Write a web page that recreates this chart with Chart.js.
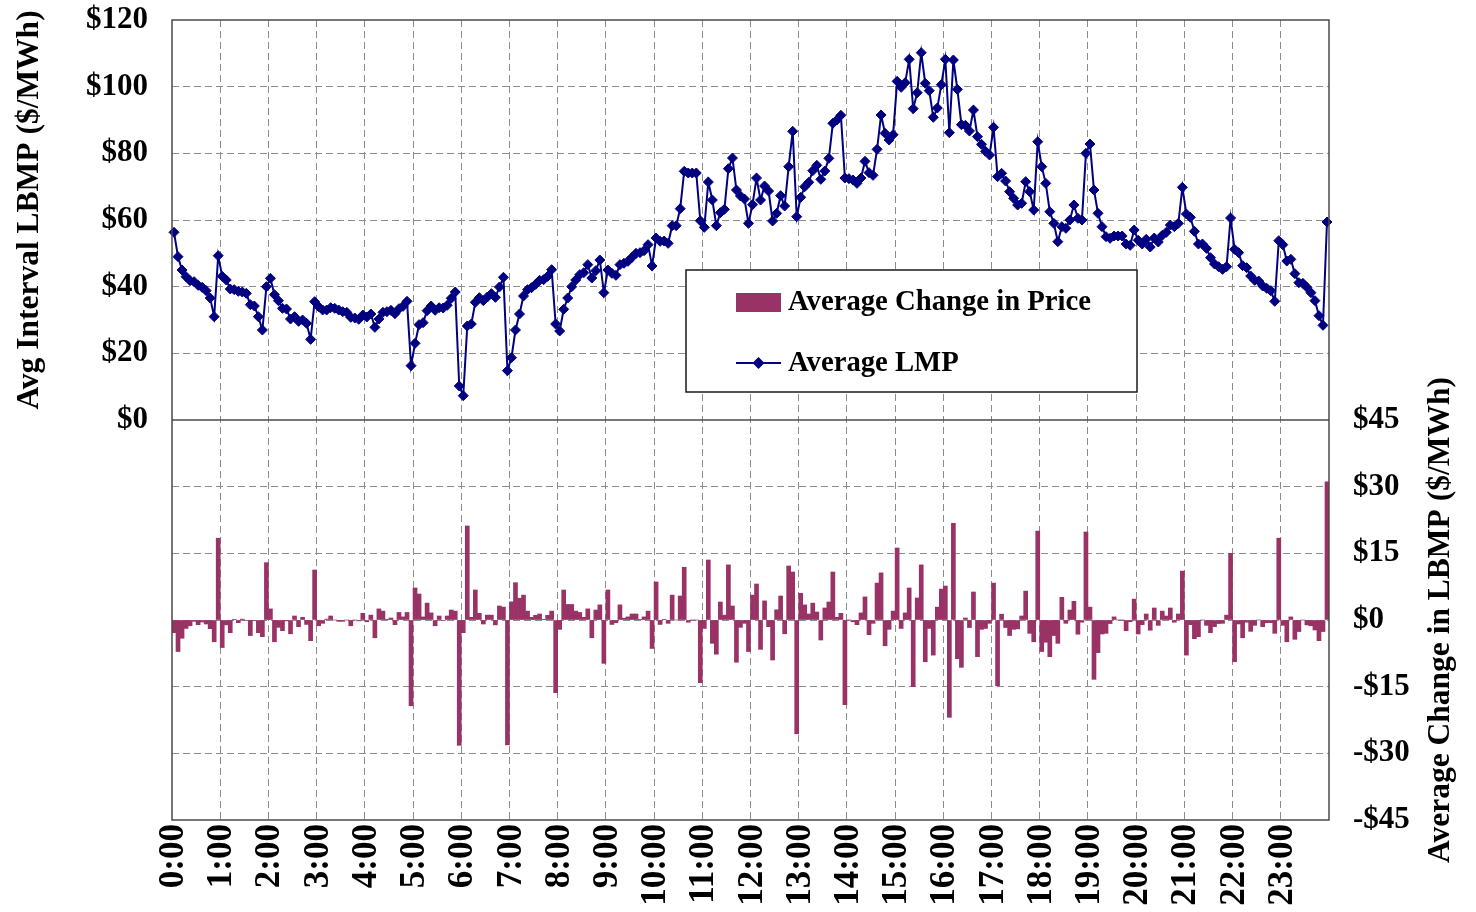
<!DOCTYPE html>
<html>
<head>
<meta charset="utf-8">
<script src="https://cdn.jsdelivr.net/npm/chart.js@4.4.0/dist/chart.umd.min.js"></script>
<style>
  html, body { margin: 0; padding: 0; background: #ffffff; }
  #wrap { width: 1476px; height: 912px; }
</style>
</head>
<body>
<div id="wrap"><canvas id="c" width="1476" height="912"></canvas></div>
<script>
// ---- data (5-minute intervals, 288 per day) ----
const lmp = [
  56.3, 49, 45, 43, 41.8, 41.5, 40.4, 39.8, 38.8, 36.6, 31, 49.3,
  43.1, 42, 39.3, 39.1, 38.6, 38.4, 38, 34.6, 34.2, 31, 27, 40,
  42.5, 37.6, 35.8, 33.5, 33.3, 30.3, 31, 29.6, 30, 29, 24.2, 35.5,
  34, 33, 33, 33.7, 33.5, 33, 32.5, 32.3, 30.8, 30.6, 30.2, 31.5,
  30.9, 31.8, 27.8, 30.3, 32.3, 32.5, 32.9, 31.9, 33.4, 34.1, 35.6, 16.3,
  23, 28.6, 29.2, 32.8, 34.2, 32.9, 33.7, 33.6, 34.4, 36.5, 38.4, 10.2,
  7.3, 28.2, 28.8, 35.3, 36.7, 35.8, 36.9, 37.9, 36.8, 39.9, 42.8, 14.8,
  18.7, 27, 31.8, 37.2, 39.1, 39.7, 40.7, 41.9, 42.1, 43.1, 45.1, 28.8,
  26.7, 33.2, 36.6, 40, 42, 43.6, 44.2, 46.6, 42.6, 44.8, 48, 38.2,
  45, 44, 43.4, 46.6, 47, 47.6, 48.8, 50, 50.2, 50.8, 52.6, 46.2,
  54.6, 53.6, 53.7, 53, 58.3, 58.3, 63.4, 74.6, 74.1, 74.1, 74.1, 59.8,
  57.8, 71.4, 66, 58.3, 62.2, 63.2, 75.4, 78.6, 69, 67.2, 66.3, 59,
  64.6, 72.6, 66, 70.2, 68.7, 59.7, 62, 67.3, 64.2, 76, 86.6, 61,
  66.8, 70, 71.3, 74.8, 76.4, 72.2, 74.7, 78.5, 89, 90, 91.4, 72.6,
  72.4, 72, 71, 72.6, 77.6, 74.2, 73.4, 81.2, 91.5, 86, 84, 85.6,
  101.6, 99.8, 101.2, 108.2, 93.4, 98.2, 110.2, 101, 98.8, 90.8, 93.6, 100.6,
  108.2, 86.2, 108, 99.2, 88.6, 88.4, 86.7, 93, 85, 82.7, 80.6, 79.5,
  87.8, 73, 74, 71.7, 68.5, 66.5, 64.5, 65, 71.5, 68.5, 63, 83.5,
  76, 71, 62.5, 59, 53.5, 58, 57.5, 60, 64.5, 60.5, 60, 80,
  82.8, 69, 62, 58, 55, 54.5, 55.2, 55.2, 55.2, 52.8, 52.4, 57,
  53.9, 52.8, 54.2, 51.9, 54.6, 53.4, 55.4, 56.3, 58.5, 58, 59, 69.8,
  61.8, 60.8, 56.6, 52.8, 52.8, 51.5, 48.7, 46.8, 46, 45.2, 46, 60.6,
  51.2, 50.2, 46.3, 45.7, 43.2, 41.9, 41.7, 40.2, 39.5, 38.8, 35.6, 53.8,
  52.6, 47.7, 48.2, 43.9, 41.2, 41, 39.8, 38.2, 35.8, 31.3, 28.4, 59.4
];

const priceChange = [
  -2.85, -7.1, -4.1, -1.9, -1.3, -0.3, -1.05, -0.45, -0.9, -1.95, -4.9, 18.4,
  -6.2, -1.1, -2.85, 0.15, -0.6, 0.2, -0.1, -3.5, -0.1, -2.85, -3.75, 12.9,
  2.5, -4.9, -1.65, -2.4, -0.2, -3.1, 0.9, -1.5, 0.6, -1, -4.65, 11.25,
  -1.3, -0.75, 0.2, 0.9, 0, -0.3, -0.3, 0, -1.3, 0, -0.2, 1.5,
  -0.4, 1.1, -4, 2.5, 2, 0.15, 0.45, -1.05, 1.7, 0.7, 1.7, -19.3,
  7.2, 5.85, 0.7, 3.8, 1.6, -1.3, 0.9, -0.1, 0.9, 2.25, 2, -28.2,
  -2.85, 21.15, 0.6, 6.75, 1.5, -0.9, 1.1, 1.1, -1.1, 3.15, 2.9, -28.1,
  4.1, 8.4, 4.9, 5.6, 2, 0.6, 1.05, 1.35, 0.15, 1.05, 2, -16.35,
  -2.1, 6.75, 3.5, 3.5, 2, 1.7, 0.6, 2.5, -4, 2.25, 3.4, -9.75,
  6.75, -1, -0.6, 3.4, 0.4, 0.7, 1.35, 1.35, 0.15, 0.7, 2, -6.4,
  8.55, -1, 0.15, -0.75, 5.6, 0, 5.4, 11.85, -0.5, 0, 0, -14.1,
  -1.9, 13.5, -5.25, -7.7, 4.05, 1.1, 12.4, 3.15, -9.5, -1.65, -0.75, -7.1,
  5.6, 8.1, -6.6, 4.3, -1.5, -9, 2.3, 5.4, -3.1, 12.15, 10.8, -25.6,
  6, 3.4, 1.35, 3.8, 1.8, -4.5, 2.7, 4.05, 10.8, 0.6, 1.5, -19.05,
  0, -0.4, -1.05, 1.6, 5.2, -3.3, -0.75, 8.3, 10.6, -5.8, -2.1, 2,
  16.2, -1.9, 1.6, 7.2, -15, 4.95, 12.4, -9.4, -1.9, -7.9, 2.9, 6.95,
  7.65, -21.9, 21.75, -8.7, -10.65, 0.45, -1.7, 6.3, -8.25, -2.1, -1.9, -0.75,
  8.3, -14.8, 1.3, -1.7, -3.5, -2.1, -2, 0.9, 6.5, -3, -4.9, 20,
  -7.1, -5, -8.25, -3.5, -5.25, 5.1, -0.75, 2.25, 4.2, -3.2, -0.5, 19.8,
  2.9, -13.35, -7.35, -3.15, -3, -0.8, 0.7, 0, 0, -2.4, -0.4, 4.7,
  -3.15, -1.05, 1.35, -2.3, 2.7, -1.2, 2, 0.9, 2.7, -0.5, 1.35, 11,
  -7.9, -1.05, -4.2, -3.75, 0, -1.2, -2.85, -1.5, -0.8, -0.75, 1.1, 15,
  -9.4, -0.9, -4, -0.5, -2.55, -1.2, 0, -1.5, -0.6, -0.6, -3, 18.4,
  -1.2, -4.9, 0.7, -4.35, -2.6, 0, -1.1, -1.3, -2.25, -4.65, -2.6, 31.1
];

// axis settings (tick labels)
const lmpAxis = { min: -120, max: 120, step: 20 };     // labels shown for $0..$120
const changeAxis = { min: -45, max: 135, step: 15 };   // labels shown for -$45..$45
const leftTitle = 'Avg Interval LBMP ($/MWh)';
const rightTitle = 'Average Change in LBMP ($/MWh)';
const barLabel = 'Average Change in Price';
const lineLabel = 'Average LMP';

// categories: 0:00, 0:05, ... 23:55
const categories = [];
for (let h = 0; h < 24; h++) {
  for (let m = 0; m < 60; m += 5) categories.push(h + ':' + String(m).padStart(2, '0'));
}

const SERIF = "'Liberation Serif', 'Times New Roman', serif";
const GRID = '#8c8c8c';
const DASH = [7, 4];
const BAR = '#993366';
const LINE = '#000080';

const decor = {
  id: 'decor',
  beforeDatasetsDraw(chart) {
    const { ctx, chartArea: a } = chart;
    const y0 = chart.scales.y.getPixelForValue(0);
    ctx.save();
    ctx.strokeStyle = '#4a4a4a';
    ctx.lineWidth = 1.5;
    ctx.beginPath();
    ctx.moveTo(a.left, y0); ctx.lineTo(a.right, y0);
    ctx.stroke();
    ctx.restore();
  },
  afterDraw(chart) {
    const { ctx, chartArea: a } = chart;
    ctx.save();
    // plot frame
    ctx.strokeStyle = '#4a4a4a';
    ctx.lineWidth = 1.5;
    ctx.strokeRect(a.left, a.top, a.right - a.left, a.bottom - a.top);

    // axis titles (reading bottom to top)
    ctx.fillStyle = '#000';
    ctx.font = 'bold 31.5px ' + SERIF;
    ctx.textAlign = 'center';
    ctx.textBaseline = 'middle';
    const yTop = chart.scales.y.getPixelForValue(120);
    const yMid = chart.scales.y.getPixelForValue(0);
    const yBot = chart.scales.y.getPixelForValue(-120);
    ctx.save();
    ctx.translate(30, (yTop + yMid) / 2 - 10);
    ctx.rotate(-Math.PI / 2);
    ctx.fillText(leftTitle, 0, 0);
    ctx.restore();
    ctx.save();
    ctx.translate(1441, (yMid + yBot) / 2);
    ctx.rotate(-Math.PI / 2);
    ctx.fillText(rightTitle, 0, 0);
    ctx.restore();

    // legend
    const bx = 686, by = 270, bw = 451, bh = 122;
    ctx.fillStyle = '#ffffff';
    ctx.fillRect(bx, by, bw, bh);
    ctx.strokeStyle = '#1a1a1a';
    ctx.lineWidth = 1.5;
    ctx.strokeRect(bx, by, bw, bh);
    const ds = chart.data.datasets;
    ctx.fillStyle = ds[0].backgroundColor;
    ctx.fillRect(736, 293, 45, 19);
    ctx.strokeStyle = ds[1].borderColor;
    ctx.lineWidth = 2;
    ctx.beginPath(); ctx.moveTo(736, 363); ctx.lineTo(781, 363); ctx.stroke();
    ctx.fillStyle = ds[1].pointBackgroundColor;
    ctx.beginPath();
    ctx.moveTo(758.5, 357); ctx.lineTo(764.5, 363); ctx.lineTo(758.5, 369); ctx.lineTo(752.5, 363);
    ctx.closePath(); ctx.fill();
    ctx.fillStyle = '#000';
    ctx.font = 'bold 28.7px ' + SERIF;
    ctx.textAlign = 'left';
    ctx.textBaseline = 'middle';
    ctx.fillText(ds[0].label, 788, 303);
    ctx.fillText(ds[1].label, 788, 364);
    ctx.restore();
  }
};

const yTickFont = { family: SERIF, size: 31, weight: 'bold', lineHeight: 1 };
const xTickFont = { family: SERIF, size: 35, weight: 'bold', lineHeight: 1 };

new Chart(document.getElementById('c'), {
  type: 'bar',
  data: {
    labels: categories,
    datasets: [
      {
        type: 'bar',
        label: barLabel,
        data: priceChange,
        yAxisID: 'y1',
        backgroundColor: BAR,
        borderWidth: 0,
        barPercentage: 1.0,
        categoryPercentage: 1.0,
        order: 2
      },
      {
        type: 'line',
        label: lineLabel,
        data: lmp,
        yAxisID: 'y',
        borderColor: LINE,
        borderWidth: 2,
        pointStyle: 'rectRot',
        pointRadius: 5,
        pointBackgroundColor: LINE,
        pointBorderColor: LINE,
        pointBorderWidth: 1,
        tension: 0,
        clip: false,
        order: 1
      }
    ]
  },
  options: {
    responsive: false,
    animation: false,
    devicePixelRatio: 1,
    layout: { padding: { top: 20, left: 0, right: 0, bottom: 0 } },
    plugins: { legend: { display: false }, tooltip: { enabled: false }, title: { display: false } },
    scales: {
      x: {
        type: 'category',
        offset: true,
        grid: {
          offset: true,
          drawTicks: false,
          lineWidth: 1,
          color: c => (c.index % 12 === 0 && c.index > 0 && c.index < 288) ? GRID : 'rgba(0,0,0,0)'
        },
        border: { display: false, dash: DASH },
        ticks: {
          autoSkip: false,
          maxRotation: 90,
          minRotation: 90,
          padding: 4,
          color: '#000',
          font: xTickFont,
          callback: (v, i) => (i % 12 === 0 ? categories[i] : '')
        },
        afterFit: s => { s.height = 92; }
      },
      y: {
        position: 'left',
        min: lmpAxis.min,
        max: lmpAxis.max,
        ticks: {
          stepSize: lmpAxis.step,
          padding: 3,
          color: '#000',
          font: yTickFont,
          callback: v => (v >= 0 ? '$' + v : '')
        },
        grid: {
          lineWidth: 1,
          color: c => (c.tick && (c.tick.value === 0 || c.tick.value === lmpAxis.max || c.tick.value === lmpAxis.min)) ? 'rgba(0,0,0,0)' : GRID,
          drawTicks: true,
          tickLength: 21,
          tickColor: 'rgba(0,0,0,0)'
        },
        border: { display: false, dash: DASH },
        afterFit: s => { s.width = 172; }
      },
      y1: {
        position: 'right',
        min: changeAxis.min,
        max: changeAxis.max,
        ticks: {
          stepSize: changeAxis.step,
          padding: 3,
          color: '#000',
          font: yTickFont,
          callback: v => (v > 45 ? '' : (v < 0 ? '-$' + (-v) : '$' + v))
        },
        grid: { drawOnChartArea: false, drawTicks: true, tickLength: 21, tickColor: 'rgba(0,0,0,0)' },
        border: { display: false },
        afterFit: s => { s.width = 147; }
      }
    }
  },
  plugins: [decor]
});
</script>
</body>
</html>
